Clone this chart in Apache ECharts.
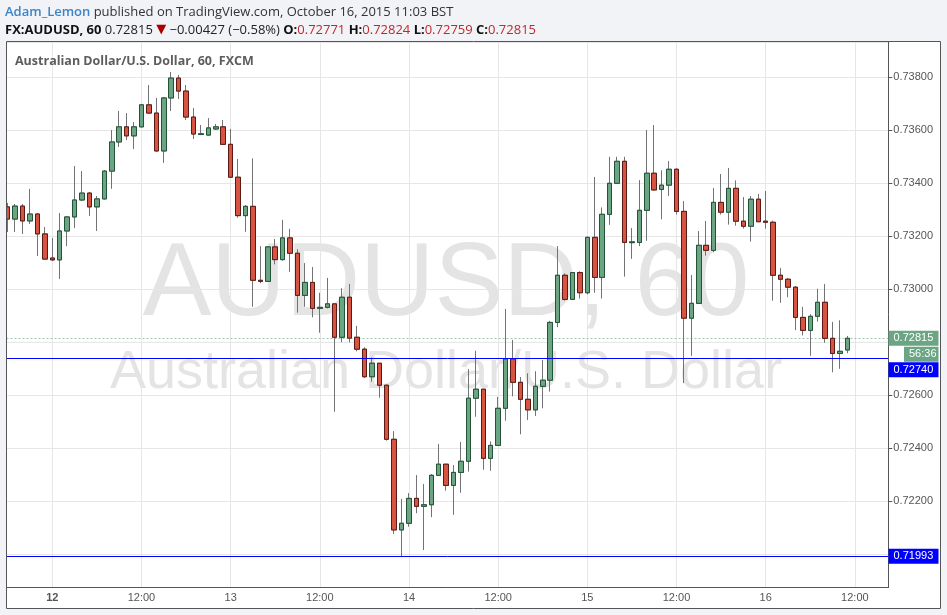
<!DOCTYPE html>
<html>
<head>
<meta charset="utf-8">
<script src="https://cdn.jsdelivr.net/npm/echarts@6.0.0/dist/echarts.min.js"></script>
<style>
html, body { margin: 0; padding: 0; background: #f1f3f6; }
#chart { width: 947px; height: 615px; }
</style>
</head>
<body>
<div id="chart"></div>
<script>
// hourly bars, first one is Oct 11 18:00
var startDay = 11;
var startHour = 18;
var slotCount = 119; // bars + empty slots on the right

var opens = [
    0.73311, 0.73265, 0.73314, 0.73258, 0.73284, 0.73209, 0.73118, 0.73111, 0.73220, 0.73273,
    0.73337, 0.73363, 0.73311, 0.73341, 0.73446, 0.73556, 0.73613, 0.73579, 0.73613, 0.73696,
    0.73665, 0.73522, 0.73722, 0.73797, 0.73748, 0.73650, 0.73584, 0.73582, 0.73605, 0.73613,
    0.73547, 0.73423, 0.73278, 0.73313, 0.73034, 0.73030, 0.73160, 0.73112, 0.73194, 0.73136,
    0.72977, 0.73026, 0.72928, 0.72932, 0.72945, 0.72819, 0.72970, 0.72819, 0.72774, 0.72670,
    0.72721, 0.72638, 0.72434, 0.72092, 0.72117, 0.72211, 0.72181, 0.72187, 0.72298, 0.72340,
    0.72260, 0.72309, 0.72351, 0.72589, 0.72623, 0.72362, 0.72411, 0.72551, 0.72737, 0.72649,
    0.72585, 0.72545, 0.72634, 0.72657, 0.72875, 0.73053, 0.72962, 0.73063, 0.72987, 0.73196,
    0.73045, 0.73283, 0.73400, 0.73483, 0.73176, 0.73177, 0.73298, 0.73438, 0.73377, 0.73393,
    0.73453, 0.73294, 0.72891, 0.72947, 0.73166, 0.73147, 0.73328, 0.73291, 0.73381, 0.73257,
    0.73238, 0.73340, 0.73257, 0.73253, 0.73053, 0.73038, 0.73008, 0.72894, 0.72845, 0.72898,
    0.72951, 0.72815, 0.72758, 0.72771
];
var closes = [
    0.73265, 0.73314, 0.73258, 0.73284, 0.73209, 0.73114, 0.73111, 0.73220, 0.73273, 0.73337,
    0.73363, 0.73311, 0.73341, 0.73446, 0.73556, 0.73613, 0.73579, 0.73613, 0.73696, 0.73665,
    0.73522, 0.73722, 0.73797, 0.73748, 0.73650, 0.73586, 0.73587, 0.73609, 0.73613, 0.73547,
    0.73423, 0.73278, 0.73313, 0.73034, 0.73030, 0.73160, 0.73112, 0.73194, 0.73136, 0.72977,
    0.73026, 0.72928, 0.72932, 0.72945, 0.72819, 0.72970, 0.72816, 0.72774, 0.72670, 0.72721,
    0.72638, 0.72434, 0.72092, 0.72117, 0.72211, 0.72181, 0.72187, 0.72298, 0.72340, 0.72260,
    0.72309, 0.72351, 0.72589, 0.72623, 0.72362, 0.72411, 0.72551, 0.72737, 0.72649, 0.72585,
    0.72545, 0.72634, 0.72657, 0.72875, 0.73053, 0.72962, 0.73063, 0.72987, 0.73196, 0.73045,
    0.73283, 0.73400, 0.73483, 0.73177, 0.73179, 0.73298, 0.73438, 0.73375, 0.73393, 0.73453,
    0.73294, 0.72891, 0.72947, 0.73166, 0.73147, 0.73328, 0.73291, 0.73381, 0.73257, 0.73238,
    0.73340, 0.73255, 0.73253, 0.73053, 0.73038, 0.73008, 0.72894, 0.72845, 0.72898, 0.72951,
    0.72815, 0.72758, 0.72766, 0.72815
];
var highs = [
    0.73326, 0.73322, 0.73322, 0.73379, 0.73288, 0.73235, 0.73194, 0.73288, 0.73277, 0.73465,
    0.73446, 0.73367, 0.73352, 0.73450, 0.73601, 0.73673, 0.73665, 0.73631, 0.73699, 0.73771,
    0.73722, 0.73726, 0.73820, 0.73809, 0.73771, 0.73684, 0.73620, 0.73646, 0.73624, 0.73639,
    0.73605, 0.73492, 0.73318, 0.73494, 0.73163, 0.73163, 0.73190, 0.73262, 0.73228, 0.73151,
    0.73099, 0.73084, 0.72987, 0.73043, 0.72946, 0.73004, 0.73020, 0.72862, 0.72781, 0.72743,
    0.72722, 0.72641, 0.72465, 0.72209, 0.72231, 0.72299, 0.72265, 0.72303, 0.72416, 0.72341,
    0.72337, 0.72424, 0.72699, 0.72768, 0.72624, 0.72426, 0.72594, 0.72926, 0.72809, 0.72669,
    0.72683, 0.72691, 0.72733, 0.72881, 0.73163, 0.73060, 0.73063, 0.73068, 0.73199, 0.73424,
    0.73309, 0.73500, 0.73500, 0.73500, 0.73231, 0.73412, 0.73601, 0.73620, 0.73449, 0.73484,
    0.73457, 0.73333, 0.73054, 0.73220, 0.73258, 0.73382, 0.73435, 0.73458, 0.73411, 0.73348,
    0.73352, 0.73360, 0.73371, 0.73259, 0.73080, 0.73043, 0.73012, 0.72934, 0.72906, 0.73002,
    0.73020, 0.72877, 0.72883, 0.72824
];
var lows = [
    0.73216, 0.73216, 0.73209, 0.73246, 0.73126, 0.73111, 0.73107, 0.73039, 0.73163, 0.73231,
    0.73333, 0.73277, 0.73220, 0.73339, 0.73379, 0.73537, 0.73563, 0.73529, 0.73611, 0.73663,
    0.73520, 0.73477, 0.73673, 0.73718, 0.73639, 0.73567, 0.73582, 0.73579, 0.73601, 0.73546,
    0.73422, 0.73270, 0.73217, 0.72934, 0.73023, 0.73029, 0.73094, 0.73108, 0.73066, 0.72912,
    0.72934, 0.72894, 0.72836, 0.72928, 0.72538, 0.72800, 0.72800, 0.72766, 0.72665, 0.72651,
    0.72591, 0.72429, 0.72077, 0.71993, 0.72104, 0.72155, 0.72016, 0.72140, 0.72297, 0.72240,
    0.72149, 0.72232, 0.72312, 0.72519, 0.72319, 0.72315, 0.72410, 0.72504, 0.72596, 0.72453,
    0.72507, 0.72522, 0.72551, 0.72614, 0.72857, 0.72957, 0.72962, 0.72965, 0.72981, 0.72987,
    0.72965, 0.73243, 0.73399, 0.73048, 0.73115, 0.73163, 0.73183, 0.73372, 0.73264, 0.73352,
    0.73282, 0.72646, 0.72749, 0.72946, 0.73127, 0.73140, 0.73282, 0.73244, 0.73240, 0.73229,
    0.73180, 0.73254, 0.73229, 0.72957, 0.72949, 0.72970, 0.72846, 0.72826, 0.72749, 0.72878,
    0.72798, 0.72687, 0.72700, 0.72759
];

// horizontal lines drawn on the chart
var levelLines = [0.72740, 0.71993];
var lastPrice = 0.72815;
var barCountdown = '56:36';

var yMin = 0.718747;
var yMax = 0.739332;

var upColor = '#6ba583', upBorder = '#225437';
var downColor = '#d75442', downBorder = '#5b1a13';
var wickColor = '#737375';
var bgColor = '#f1f3f6';
var axisColor = '#555';
var gridColor = '#e6e6e6';

function hourOf(i) { return (startHour + i) % 24; }
function dayOf(i) { return startDay + Math.floor((startHour + i) / 24); }
function isMarked(i) { return hourOf(i) % 12 === 0; }

var categories = [];
for (var i = 0; i < slotCount; i++) {
    categories.push(dayOf(i) + ' ' + hourOf(i) + ':00');
}

var wickData = [], bodyData = [];
for (var i = 0; i < opens.length; i++) {
    wickData.push([opens[i], closes[i], lows[i], highs[i]]);
    bodyData.push([opens[i], closes[i], Math.min(opens[i], closes[i]), Math.max(opens[i], closes[i])]);
}

var myChart = echarts.init(document.getElementById('chart'));

var option = {
    animation: false,
    backgroundColor: '#fff',
    grid: { left: 4, right: 58.7, top: 42, bottom: 27.5 },
    xAxis: {
        type: 'category',
        data: categories,
        boundaryGap: true,
        axisLine: { onZero: false, lineStyle: { color: axisColor } },
        axisTick: {
            alignWithLabel: true,
            interval: function (i) { return isMarked(i); },
            length: 3,
            lineStyle: { color: axisColor }
        },
        axisLabel: {
            interval: function (i) { return isMarked(i); },
            color: axisColor,
            fontFamily: 'Liberation Sans',
            fontSize: 11,
            margin: 5,
            formatter: function (v, i) {
                if (hourOf(i) === 12) return '12:00';
                // first day label is bold
                if (i === 6) return '{b|' + dayOf(i) + '}';
                return '' + dayOf(i);
            },
            rich: { b: { fontWeight: 'bold', fontFamily: 'Liberation Sans', fontSize: 11, color: axisColor } }
        },
        splitLine: {
            show: true,
            alignWithLabel: true,
            interval: function (i) { return isMarked(i); },
            lineStyle: { color: gridColor }
        }
    },
    yAxis: {
        type: 'value',
        position: 'right',
        min: yMin,
        max: yMax,
        splitNumber: 10,
        axisLine: { show: true, onZero: false, lineStyle: { color: axisColor } },
        axisTick: { show: true, length: 4, lineStyle: { color: axisColor } },
        axisLabel: {
            color: axisColor,
            fontFamily: 'Liberation Sans',
            fontSize: 11,
            margin: 5,
            showMinLabel: false,
            showMaxLabel: false,
            formatter: function (v) { return v.toFixed(5); }
        },
        splitLine: { lineStyle: { color: gridColor } }
    },
    series: [{
        name: 'wick',
        type: 'candlestick',
        data: wickData,
        barWidth: 5,
        z: 2,
        itemStyle: {
            color: wickColor, color0: wickColor,
            borderColor: wickColor, borderColor0: wickColor,
            borderWidth: 1
        }
    }, {
        name: 'AUDUSD',
        type: 'candlestick',
        data: bodyData,
        barWidth: 5,
        z: 3,
        itemStyle: {
            color: upColor, color0: downColor,
            borderColor: upBorder, borderColor0: downBorder,
            borderWidth: 1
        }
    }]
};
myChart.setOption(option);

// everything below is placed from the axes
function py(v) { return myChart.convertToPixel({ yAxisIndex: 0 }, v); }
var plotLeft = 6.5, plotRight = 888;
var yLast = py(lastPrice);
var yLow = py(levelLines[1]);
var boxFont = '11px "Liberation Sans"';

function hLine(v, z, style) {
    var y = Math.round(py(v)) + 0.5;
    return { type: 'line', z: z, shape: { x1: plotLeft, y1: y, x2: plotRight, y2: y }, style: style };
}

function priceBox(top, left, width, fill, text) {
    return [{
        type: 'rect', z: 110,
        shape: { x: left, y: top, width: width, height: 15 },
        style: { fill: fill }
    }, {
        type: 'text', z: 111,
        style: { x: left + 5, y: top + 7.5, text: text, fill: '#fff', font: boxFont, textVerticalAlign: 'middle' }
    }];
}

var graphics = [
    // watermark, under the grid lines
    {
        type: 'text', z: -1,
        style: { x: 446, y: 338, text: 'AUDUSD, 60', fill: '#e4e4e4',
                 font: '103px "Liberation Sans"', textAlign: 'center', textVerticalAlign: 'bottom' }
    },
    {
        type: 'text', z: -1,
        style: { x: 446, y: 400, text: 'Australian Dollar/U.S. Dollar', fill: '#e4e4e4',
                 font: '54px "Liberation Sans"', textAlign: 'center', textVerticalAlign: 'bottom' }
    },
    hLine(lastPrice, 1, { stroke: '#9cc6ad', lineWidth: 1, lineDash: [2, 2] }),
    hLine(levelLines[0], 5, { stroke: '#0000ff', lineWidth: 1 }),
    hLine(levelLines[1], 5, { stroke: '#0000ff', lineWidth: 1 }),
    // page margins around the panel
    { type: 'rect', z: 100, shape: { x: 0, y: 0, width: 947, height: 41.5 }, style: { fill: bgColor } },
    { type: 'rect', z: 100, shape: { x: 0, y: 0, width: 6, height: 615 }, style: { fill: bgColor } },
    { type: 'rect', z: 100, shape: { x: 941, y: 0, width: 6, height: 615 }, style: { fill: bgColor } },
    { type: 'rect', z: 100, shape: { x: 0, y: 608.5, width: 947, height: 6.5 }, style: { fill: bgColor } },
    {
        type: 'rect', z: 101,
        shape: { x: 6.5, y: 41.5, width: 934, height: 567 },
        style: { fill: 'none', stroke: '#555', lineWidth: 1 }
    },
    // header
    {
        type: 'text', z: 102,
        style: {
            x: 5, y: 12, textVerticalAlign: 'middle',
            text: '{u|Adam_Lemon} {t|published on TradingView.com, October 16, 2015 11:03 BST}',
            rich: {
                u: { fill: '#3c84c8', font: '600 13px "Open Sans"' },
                t: { fill: '#333', font: '13px "Open Sans"' }
            }
        }
    },
    {
        type: 'text', z: 102,
        style: {
            x: 5, y: 30, textVerticalAlign: 'middle',
            text: '{b|FX:AUDUSD, 60} {t|0.72815} {r|▼} {t|−0.00427 (−0.58%)} {b|O:}{v|0.72771} {b|H:}{v|0.72824} {b|L:}{v|0.72759} {b|C:}{v|0.72815}',
            rich: {
                b: { fill: '#111', font: 'bold 13px "Open Sans"' },
                t: { fill: '#222', font: '13px "Open Sans"' },
                r: { fill: '#a00', font: '13px "DejaVu Sans"' },
                v: { fill: '#c0272d', font: '13px "Open Sans"' }
            }
        }
    },
    {
        type: 'text', z: 102,
        style: { x: 15, y: 61, text: 'Australian Dollar/U.S. Dollar, 60, FXCM', fill: '#5d5d5d',
                 font: 'bold 12.5px "Open Sans"', textVerticalAlign: 'middle' }
    }
];

graphics = graphics
    .concat(priceBox(yLast - 7.5, 888.5, 50, upColor, lastPrice.toFixed(5)))
    .concat(priceBox(yLast + 8.5, 904, 34.5, upColor, barCountdown))
    .concat(priceBox(yLast + 24, 888.5, 50, '#0000ff', levelLines[0].toFixed(5)))
    .concat(priceBox(yLow - 7.5, 888.5, 50, '#0000ff', levelLines[1].toFixed(5)));

myChart.setOption({ graphic: graphics });
</script>
</body>
</html>
